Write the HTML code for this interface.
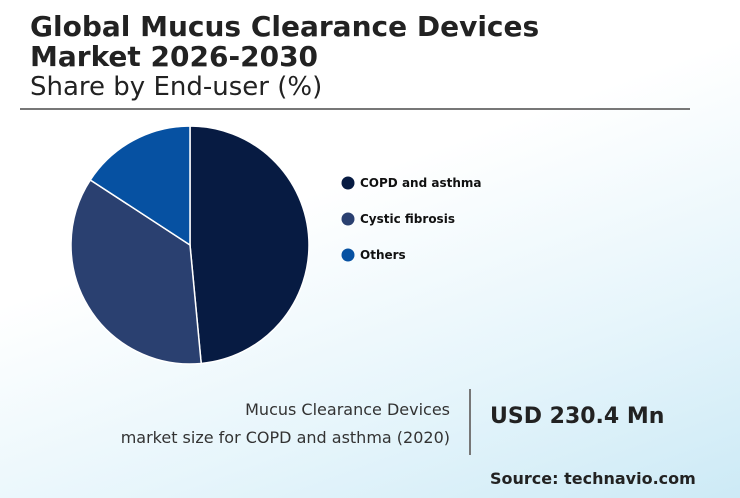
<!DOCTYPE html>
<html><head><meta charset="utf-8"><style>
body{margin:0;width:740px;height:498px;overflow:hidden;font-family:"DejaVu Sans","Liberation Sans",sans-serif;}
#bg{position:absolute;left:0;top:0;width:740px;height:498px;background:linear-gradient(160deg,#ffffff 0%,#ffffff 40%,#e6f5fb 72%,#cdeaf6 100%);}
.t{position:absolute;color:#222;white-space:nowrap;}
</style></head><body>
<div id="bg"></div>
<div class="t" style="left:30px;top:12px;font-size:28px;font-weight:bold;line-height:30px;">Global Mucus Clearance Devices<br>Market 2026-2030</div>
<div class="t" style="left:30px;top:71px;font-size:26px;line-height:32px;">Share by End-user (%)</div>
<div style="position:absolute;left:20px;top:108px;width:670px;height:2px;background:#777;"></div>
<svg id="chart" width="740" height="498" style="position:absolute;left:0;top:0"></svg>
<div class="t" style="right:290px;top:396px;font-size:16px;line-height:28px;text-align:right;color:#333;">Mucus Clearance Devices<br>market size for COPD and asthma (2020)</div>
<div style="position:absolute;left:469px;top:389px;width:2px;height:66px;background:#777;"></div>
<div class="t" style="left:490px;top:404px;font-size:22px;font-weight:bold;">USD 230.4 Mn</div>
<div class="t" style="left:490px;top:469px;font-size:16px;font-weight:bold;">Source: technavio.com</div>
<script>
const categories=["COPD and asthma","Cystic fibrosis","Others"];
const shares=[48.5,35.7,15.8];
const colors=["#071b42","#2a4070","#0651a2"];
const svg=document.getElementById('chart');
const NS="http://www.w3.org/2000/svg";
const cx=190,cy=245,r=119;
const total=shares.reduce((a,b)=>a+b,0);
let a0=0;
shares.forEach((v,i)=>{
  const a1=a0+v/total*2*Math.PI;
  const x0=cx+r*Math.sin(a0),y0=cy-r*Math.cos(a0),x1=cx+r*Math.sin(a1),y1=cy-r*Math.cos(a1);
  const p=document.createElementNS(NS,'path');
  p.setAttribute('d',`M${cx},${cy}L${x0},${y0}A${r},${r} 0 ${a1-a0>Math.PI?1:0} 1 ${x1},${y1}Z`);
  p.setAttribute('fill',colors[i]);p.setAttribute('stroke','#fff');p.setAttribute('stroke-width','1.5');
  
  
  svg.appendChild(p);
  a0=a1;
  const c=document.createElementNS(NS,'circle');
  c.setAttribute('cx',348);c.setAttribute('cy',183+36*i);c.setAttribute('r',6.5);c.setAttribute('fill',colors[i]);
  
  
  svg.appendChild(c);
  const t=document.createElementNS(NS,'text');
  t.setAttribute('x',360);t.setAttribute('y',187+36*i);t.setAttribute('font-size','12');t.setAttribute('font-weight','bold');t.setAttribute('fill','#111');
  t.setAttribute('font-family','DejaVu Sans, Liberation Sans, sans-serif');
  t.textContent=categories[i];
  
  
  svg.appendChild(t);
});
</script>
</body></html>
